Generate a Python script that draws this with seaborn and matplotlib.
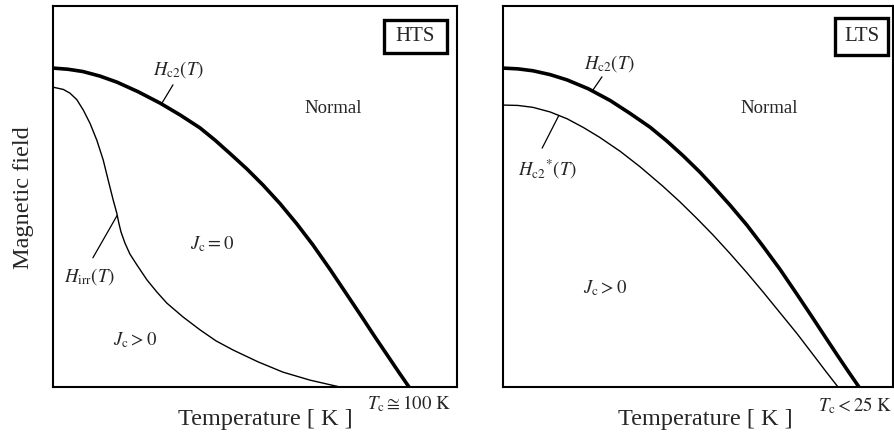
import matplotlib
matplotlib.use("Agg")
import matplotlib.pyplot as plt
from matplotlib.patches import Rectangle
import seaborn as sns
import pandas as pd

# Reduced temperature t = T / Tc(Hc2) and field H in units of the axis height
# HTS panel: upper critical field and irreversibility line
hts_t_hc2 = [0.0, 0.042, 0.084, 0.132, 0.180, 0.239, 0.301, 0.357, 0.413, 0.455, 0.497,
             0.545, 0.590, 0.638, 0.685, 0.730, 0.778, 0.826, 0.871, 0.904, 0.938, 0.969, 1.0]
hts_h_hc2 = [0.837, 0.834, 0.828, 0.816, 0.800, 0.775, 0.745, 0.714, 0.680, 0.648, 0.613,
             0.572, 0.530, 0.481, 0.428, 0.373, 0.309, 0.242, 0.179, 0.132, 0.085, 0.042, 0.0]

hts_t_irr = [0.0, 0.029, 0.048, 0.067, 0.085, 0.104, 0.123, 0.141, 0.155, 0.169, 0.179,
             0.185, 0.191, 0.202, 0.216, 0.236, 0.264, 0.292, 0.320, 0.365, 0.413, 0.458,
             0.506, 0.576, 0.646, 0.722, 0.806]
hts_h_irr = [0.787, 0.781, 0.771, 0.754, 0.727, 0.692, 0.648, 0.596, 0.543, 0.491, 0.457,
             0.430, 0.407, 0.378, 0.349, 0.320, 0.281, 0.249, 0.220, 0.184, 0.150, 0.121,
             0.097, 0.066, 0.039, 0.018, 0.0]

# LTS panel: upper critical field and Hc2*
lts_t_hc2 = [0.0, 0.042, 0.084, 0.132, 0.180, 0.239, 0.301, 0.357, 0.413, 0.461, 0.507,
             0.553, 0.590, 0.638, 0.685, 0.730, 0.778, 0.826, 0.871, 0.904, 0.938, 0.969, 1.0]
lts_h_hc2 = [0.837, 0.835, 0.830, 0.820, 0.806, 0.783, 0.752, 0.718, 0.682, 0.645, 0.606,
             0.564, 0.527, 0.477, 0.425, 0.370, 0.309, 0.243, 0.180, 0.133, 0.085, 0.042, 0.0]

lts_t_star = [0.0, 0.042, 0.084, 0.132, 0.180, 0.226, 0.272, 0.330, 0.385, 0.449, 0.497,
              0.545, 0.590, 0.638, 0.685, 0.730, 0.778, 0.826, 0.871, 0.906, 0.941]
lts_h_star = [0.740, 0.739, 0.734, 0.722, 0.704, 0.681, 0.655, 0.618, 0.578, 0.527, 0.486,
              0.442, 0.399, 0.350, 0.300, 0.250, 0.195, 0.140, 0.085, 0.042, 0.0]

sns.set_theme(style="white")
plt.rcParams["font.family"] = ["Liberation Serif", "DejaVu Serif"]
plt.rcParams["mathtext.fontset"] = "stix"

W, H = 894, 437
fig = plt.figure(figsize=(W / 100, H / 100), dpi=100)
ax1 = fig.add_axes([53 / W, 50 / H, 404 / W, 381 / H])
ax2 = fig.add_axes([503 / W, 50 / H, 390 / W, 381 / H])

thick, thin = 2.6, 1.0


def curve(ax, t, h, lw):
    df = pd.DataFrame({"t": t, "h": h})
    sns.lineplot(data=df, x="t", y="h", ax=ax, color="black", lw=lw,
                 sort=False, solid_joinstyle="round", solid_capstyle="butt")


curve(ax1, hts_t_hc2, hts_h_hc2, thick)
curve(ax1, hts_t_irr, hts_h_irr, thin)
curve(ax2, lts_t_hc2, lts_h_hc2, thick)
curve(ax2, lts_t_star, lts_h_star, thin)

ax1.set_xlim(0, 404 / 356)
ax2.set_xlim(0, 390 / 356)
for ax in (ax1, ax2):
    ax.set_ylim(0, 1)
    ax.set_xticks([])
    ax.set_yticks([])
    for s in ax.spines.values():
        s.set_color("black")
        s.set_linewidth(1.5)
    ax.set_ylabel("")

fs = 13.5
# HTS annotations
ax1.text(0.354, 0.832, r"$H_{\rm c2}(T)$", fontsize=fs, ha="center", va="center")
ax1.plot([0.337, 0.306], [0.793, 0.745], color="black", lw=0.9)
ax1.text(0.104, 0.289, r"$H_{\rm irr}(T)$", fontsize=fs, ha="center", va="center")
ax1.plot([0.112, 0.180], [0.339, 0.450], color="black", lw=0.9)
ax1.text(0.787, 0.730, "Normal", fontsize=fs, ha="center", va="center")
ax1.text(0.447, 0.375, r"$J_{\rm c} = 0$", fontsize=fs, ha="center", va="center")
ax1.text(0.230, 0.123, r"$J_{\rm c} > 0$", fontsize=fs, ha="center", va="center")
ax1.add_patch(Rectangle((0.930, 0.877), 0.177, 0.086, fill=False, ec="black", lw=2.4))
ax1.text(1.018, 0.919, "HTS", fontsize=15, ha="center", va="center")
ax1.text(1.0, -0.044, r"$T_{\rm c} \cong 100\ {\rm K}$", fontsize=13.5,
         ha="center", va="center", clip_on=False)

# LTS annotations
ax2.text(0.298, 0.850, r"$H_{\rm c2}(T)$", fontsize=fs, ha="center", va="center")
ax2.plot([0.278, 0.253], [0.814, 0.780], color="black", lw=0.9)
ax2.text(0.124, 0.570, r"$H_{\rm c2}{}^{*}(T)$", fontsize=fs, ha="center", va="center")
ax2.plot([0.110, 0.157], [0.627, 0.713], color="black", lw=0.9)
ax2.text(0.747, 0.732, "Normal", fontsize=fs, ha="center", va="center")
ax2.text(0.287, 0.260, r"$J_{\rm c} > 0$", fontsize=fs, ha="center", va="center")
ax2.add_patch(Rectangle((0.933, 0.871), 0.148, 0.098, fill=False, ec="black", lw=2.4))
ax2.text(1.007, 0.919, "LTS", fontsize=15, ha="center", va="center")
ax2.text(0.990, -0.048, r"$T_{\rm c} < 25\ {\rm K}$", fontsize=13.5,
         ha="center", va="center", clip_on=False)

ax1.set_xlabel("Temperature [ K ]", fontsize=17.5, va="center")
ax1.xaxis.set_label_coords(0.525, -0.084)
ax2.set_xlabel("Temperature [ K ]", fontsize=17.5, va="center")
ax2.xaxis.set_label_coords(0.518, -0.084)
ax1.set_ylabel("Magnetic field", fontsize=17.5, va="center")
ax1.yaxis.set_label_coords(-0.074, 0.496)

fig.savefig("out.png", dpi=100, facecolor="white")
